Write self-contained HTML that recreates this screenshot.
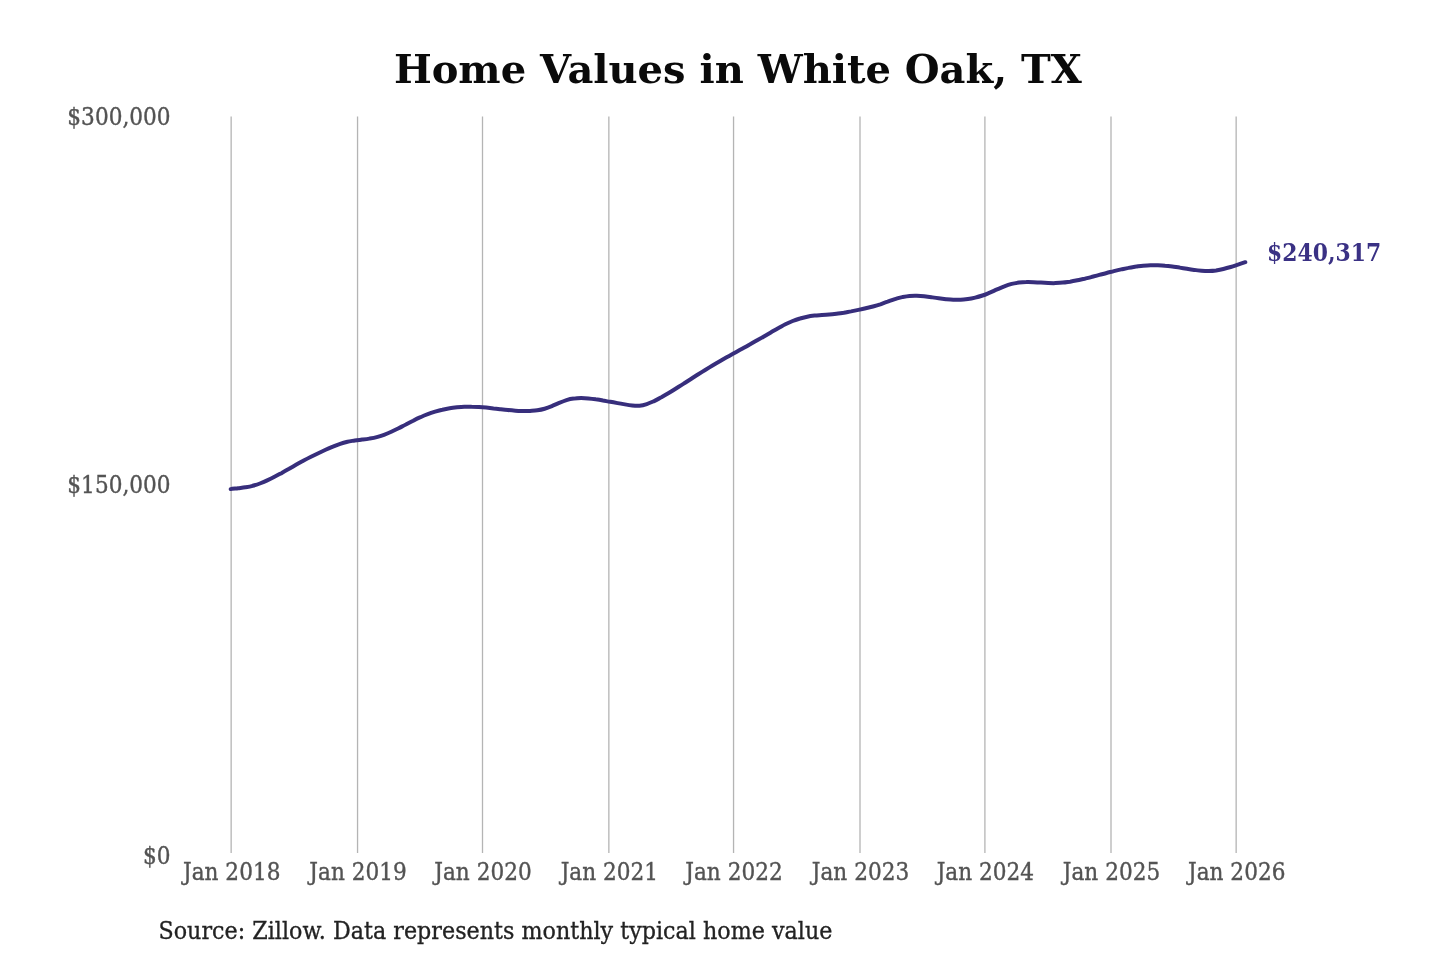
<!DOCTYPE html>
<html lang="en"><head><meta charset="utf-8"><title>Home Values in White Oak, TX</title>
<style>
html,body{margin:0;padding:0;background:#fff;}
body{width:1440px;height:960px;overflow:hidden;}
svg{display:block;}
text{font-family:"DejaVu Serif","Liberation Serif",serif;}
.title{font-size:40px;font-weight:bold;fill:#0a0a0a;}
.ax{font-size:21.65px;fill:#535353;stroke:#535353;stroke-width:0.35px;}
.src{font-size:22.25px;fill:#222;stroke:#222;stroke-width:0.3px;}
.val{font-size:21.9px;font-weight:bold;fill:#3a3184;}
</style></head><body>
<svg width="1440" height="960" viewBox="0 0 1440 960">
<rect width="1440" height="960" fill="#ffffff"/>
<text class="title" x="737.9" y="82.6" text-anchor="middle">Home Values in White Oak, TX</text>
<g stroke="#b4b4b4" stroke-width="1.3">
<line x1="231.15" y1="116.5" x2="231.15" y2="853"/>
<line x1="357.55" y1="116.5" x2="357.55" y2="853"/>
<line x1="482.50" y1="116.5" x2="482.50" y2="853"/>
<line x1="608.85" y1="116.5" x2="608.85" y2="853"/>
<line x1="733.55" y1="116.5" x2="733.55" y2="853"/>
<line x1="860.00" y1="116.5" x2="860.00" y2="853"/>
<line x1="984.90" y1="116.5" x2="984.90" y2="853"/>
<line x1="1111.00" y1="116.5" x2="1111.00" y2="853"/>
<line x1="1236.15" y1="116.5" x2="1236.15" y2="853"/>
</g>
<text class="ax" text-anchor="end" transform="translate(170.6 124.9) scale(1 1.085)">$300,000</text>
<text class="ax" text-anchor="end" transform="translate(170.6 492.9) scale(1 1.085)">$150,000</text>
<text class="ax" text-anchor="end" transform="translate(170.6 864.0) scale(1 1.085)">$0</text>
<text class="ax" text-anchor="middle" transform="translate(231.7 879.8) scale(1 1.085)">Jan 2018</text>
<text class="ax" text-anchor="middle" transform="translate(358.1 879.8) scale(1 1.085)">Jan 2019</text>
<text class="ax" text-anchor="middle" transform="translate(483.0 879.8) scale(1 1.085)">Jan 2020</text>
<text class="ax" text-anchor="middle" transform="translate(609.4 879.8) scale(1 1.085)">Jan 2021</text>
<text class="ax" text-anchor="middle" transform="translate(734.0 879.8) scale(1 1.085)">Jan 2022</text>
<text class="ax" text-anchor="middle" transform="translate(860.5 879.8) scale(1 1.085)">Jan 2023</text>
<text class="ax" text-anchor="middle" transform="translate(985.4 879.8) scale(1 1.085)">Jan 2024</text>
<text class="ax" text-anchor="middle" transform="translate(1111.5 879.8) scale(1 1.085)">Jan 2025</text>
<text class="ax" text-anchor="middle" transform="translate(1236.7 879.8) scale(1 1.085)">Jan 2026</text>
<path d="M230.7 489.1C231.9 488.9 235.6 488.5 238.0 488.2C240.4 487.9 242.9 487.7 245.3 487.3C247.7 486.9 250.2 486.5 252.6 485.8C255.0 485.2 257.5 484.4 259.9 483.5C262.3 482.6 264.8 481.6 267.2 480.4C269.6 479.3 272.1 478.1 274.5 476.8C276.9 475.6 279.4 474.2 281.8 472.9C284.2 471.5 286.7 470.1 289.1 468.8C291.5 467.4 294.0 466.0 296.4 464.6C298.8 463.2 301.3 461.9 303.7 460.6C306.1 459.3 308.6 458.0 311.0 456.8C313.4 455.6 315.9 454.4 318.3 453.2C320.7 452.1 323.2 450.9 325.6 449.8C328.0 448.7 330.5 447.6 332.9 446.6C335.3 445.5 337.8 444.6 340.2 443.8C342.6 443.0 345.1 442.3 347.5 441.7C349.9 441.2 352.4 440.9 354.8 440.5C357.2 440.1 359.7 439.9 362.1 439.6C364.5 439.3 367.0 439.0 369.4 438.6C371.8 438.2 374.3 437.8 376.7 437.1C379.1 436.5 381.6 435.7 384.0 434.8C386.4 433.9 388.9 432.9 391.3 431.8C393.7 430.7 396.2 429.5 398.6 428.3C401.0 427.1 403.4 425.7 405.9 424.5C408.3 423.2 410.7 421.9 413.2 420.7C415.6 419.4 418.0 418.2 420.5 417.2C422.9 416.1 425.3 415.1 427.8 414.2C430.2 413.3 432.6 412.5 435.1 411.7C437.5 411.0 439.9 410.3 442.4 409.8C444.8 409.2 447.2 408.7 449.7 408.3C452.1 407.9 454.5 407.6 457.0 407.3C459.4 407.1 461.8 406.9 464.3 406.8C466.7 406.7 469.1 406.7 471.6 406.8C474.0 406.8 476.4 406.9 478.9 407.0C481.3 407.2 483.7 407.4 486.2 407.6C488.6 407.9 491.0 408.2 493.5 408.5C495.9 408.7 498.3 409.0 500.8 409.3C503.2 409.6 505.6 409.9 508.1 410.1C510.5 410.4 512.9 410.6 515.4 410.7C517.8 410.9 520.2 411.0 522.7 411.1C525.1 411.1 527.5 411.1 530.0 411.0C532.4 410.8 534.8 410.7 537.3 410.3C539.7 409.9 542.1 409.4 544.6 408.7C547.0 408.0 549.4 407.1 551.9 406.1C554.3 405.1 556.7 403.9 559.2 402.9C561.6 401.9 564.0 400.9 566.5 400.1C568.9 399.4 571.3 398.9 573.8 398.6C576.2 398.2 578.6 398.1 581.1 398.1C583.5 398.1 585.9 398.2 588.4 398.4C590.8 398.6 593.2 398.9 595.7 399.3C598.1 399.6 600.5 400.0 603.0 400.5C605.4 400.9 607.8 401.4 610.3 401.8C612.7 402.3 615.1 402.7 617.6 403.1C620.0 403.6 622.4 404.0 624.9 404.4C627.3 404.8 629.7 405.2 632.2 405.4C634.6 405.7 637.0 405.9 639.5 405.7C641.9 405.5 644.3 404.9 646.8 404.1C649.2 403.3 651.6 402.2 654.1 401.1C656.5 399.9 658.9 398.6 661.4 397.3C663.8 395.9 666.2 394.5 668.7 393.0C671.1 391.6 673.5 390.1 676.0 388.5C678.4 387.0 680.8 385.4 683.3 383.9C685.7 382.3 688.1 380.8 690.6 379.2C693.0 377.6 695.4 376.1 697.9 374.5C700.3 373.0 702.7 371.5 705.2 370.0C707.6 368.5 710.0 367.0 712.5 365.5C714.9 364.1 717.3 362.7 719.8 361.3C722.2 359.9 724.6 358.5 727.1 357.1C729.5 355.7 731.9 354.4 734.4 353.0C736.8 351.7 739.2 350.3 741.6 349.0C744.1 347.6 746.5 346.3 748.9 344.9C751.4 343.6 753.8 342.2 756.2 340.8C758.7 339.4 761.1 338.1 763.5 336.7C766.0 335.2 768.4 333.8 770.8 332.4C773.3 331.0 775.7 329.5 778.1 328.2C780.6 326.9 783.0 325.5 785.4 324.3C787.9 323.1 790.3 322.0 792.7 321.0C795.2 320.0 797.6 319.2 800.0 318.5C802.5 317.7 804.9 317.2 807.3 316.7C809.8 316.2 812.2 315.9 814.6 315.6C817.1 315.3 819.5 315.2 821.9 315.0C824.4 314.9 826.8 314.8 829.2 314.5C831.7 314.3 834.1 314.0 836.5 313.7C839.0 313.4 841.4 313.0 843.8 312.7C846.3 312.3 848.7 311.8 851.1 311.4C853.6 310.9 856.0 310.4 858.4 309.9C860.9 309.4 863.3 308.9 865.7 308.3C868.2 307.7 870.6 307.2 873.0 306.5C875.5 305.8 877.9 305.1 880.3 304.3C882.8 303.4 885.2 302.5 887.6 301.7C890.1 300.8 892.5 299.9 894.9 299.1C897.4 298.4 899.8 297.6 902.2 297.1C904.7 296.6 907.1 296.1 909.5 295.9C912.0 295.7 914.4 295.6 916.8 295.7C919.3 295.8 921.7 296.0 924.1 296.3C926.6 296.6 929.0 296.9 931.4 297.2C933.9 297.6 936.3 298.0 938.7 298.3C941.2 298.6 943.6 298.9 946.0 299.2C948.5 299.4 950.9 299.6 953.3 299.7C955.8 299.8 958.2 299.8 960.6 299.7C963.1 299.6 965.5 299.3 967.9 299.0C970.4 298.7 972.8 298.2 975.2 297.6C977.7 297.0 980.1 296.3 982.5 295.5C985.0 294.7 987.4 293.6 989.8 292.6C992.3 291.6 994.7 290.4 997.1 289.4C999.6 288.3 1002.0 287.2 1004.4 286.3C1006.9 285.4 1009.3 284.6 1011.7 283.9C1014.2 283.3 1016.6 282.9 1019.0 282.5C1021.5 282.2 1023.9 282.1 1026.3 282.1C1028.8 282.0 1031.2 282.1 1033.6 282.2C1036.1 282.3 1038.5 282.5 1040.9 282.6C1043.4 282.7 1045.8 282.9 1048.2 283.0C1050.7 283.1 1053.1 283.2 1055.5 283.1C1058.0 283.0 1060.4 282.9 1062.8 282.6C1065.3 282.4 1067.7 282.0 1070.1 281.7C1072.6 281.3 1075.0 280.8 1077.4 280.3C1079.8 279.8 1082.3 279.2 1084.7 278.7C1087.1 278.1 1089.6 277.5 1092.0 276.8C1094.4 276.2 1096.9 275.6 1099.3 274.9C1101.7 274.3 1104.2 273.6 1106.6 273.0C1109.0 272.4 1111.5 271.7 1113.9 271.1C1116.3 270.5 1118.8 269.9 1121.2 269.4C1123.6 268.9 1126.1 268.3 1128.5 267.9C1130.9 267.4 1133.4 267.0 1135.8 266.6C1138.2 266.3 1140.7 265.9 1143.1 265.7C1145.5 265.5 1148.0 265.3 1150.4 265.2C1152.8 265.2 1155.3 265.2 1157.7 265.3C1160.1 265.4 1162.6 265.5 1165.0 265.8C1167.4 266.0 1169.9 266.3 1172.3 266.6C1174.7 266.9 1177.2 267.3 1179.6 267.6C1182.0 268.0 1184.5 268.4 1186.9 268.8C1189.3 269.2 1191.8 269.6 1194.2 269.9C1196.6 270.3 1199.1 270.6 1201.5 270.8C1203.9 271.0 1206.4 271.1 1208.8 271.1C1211.2 271.0 1213.7 270.8 1216.1 270.5C1218.5 270.1 1221.0 269.6 1223.4 269.0C1225.8 268.4 1228.3 267.7 1230.7 267.0C1233.1 266.3 1235.6 265.4 1238.0 264.6C1240.4 263.8 1244.1 262.6 1245.3 262.2" fill="none" stroke="#372e7c" stroke-width="4" stroke-linecap="round" stroke-linejoin="round"/>
<text class="val" transform="translate(1267.0 260.5) scale(1 1.085)">$240,317</text>
<text class="src" transform="translate(158.5 938.8) scale(1 1.085)">Source: Zillow. Data represents monthly typical home value</text>
</svg></body></html>
